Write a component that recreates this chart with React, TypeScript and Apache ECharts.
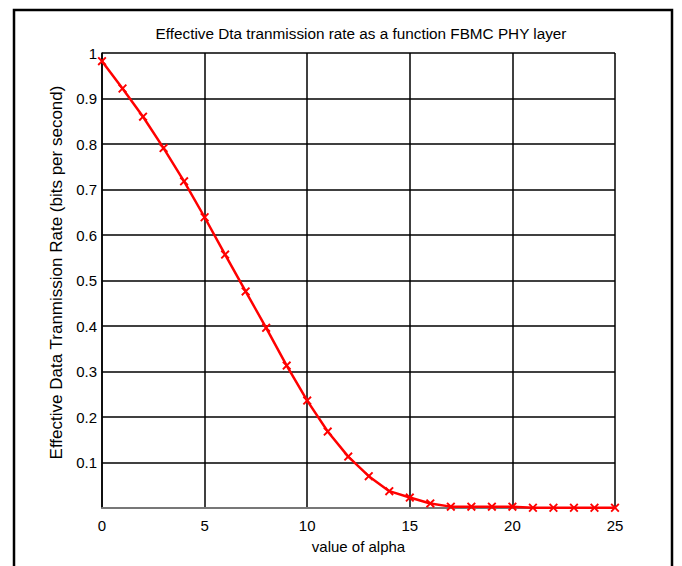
import React, { useEffect, useRef } from "react";
import * as echarts from "echarts";

const alphaValues = [0, 1, 2, 3, 4, 5, 6, 7, 8, 9, 10, 11, 12, 13, 14, 15, 16, 17, 18, 19, 20, 21, 22, 23, 24, 25];
const rateValues = [0.982, 0.922, 0.86, 0.791, 0.718, 0.639, 0.557, 0.476, 0.396, 0.313, 0.236, 0.168, 0.113, 0.07, 0.037, 0.023, 0.01, 0.003, 0.003, 0.003, 0.003, 0.0005, 0.0005, 0.0005, 0.0005, 0.0005];

const titleText = "Effective Dta tranmission rate as a function FBMC PHY layer";
const xName = "value of alpha";
const yName = "Effective Data Tranmission Rate (bits per second)";

const crossPath =
  "path://M0,1.5 L1.5,0 L5,3.5 L8.5,0 L10,1.5 L6.5,5 L10,8.5 L8.5,10 L5,6.5 L1.5,10 L0,8.5 L3.5,5 Z";

export default function App() {
  const ref = useRef<HTMLDivElement>(null);
  useEffect(() => {
    document.body.style.margin = "0";
    const chart = echarts.init(ref.current!, null, { renderer: "svg" });
    const font = "Liberation Sans, Arial, sans-serif";
    chart.setOption({
      animation: false,
      backgroundColor: "#ffffff",
      title: {
        text: titleText,
        left: 356,
        top: 21,
        textAlign: "center",
        textStyle: { fontFamily: font, fontSize: 15.3, fontWeight: "normal", color: "#000" },
      },
      grid: { left: 102, top: 53, right: 67, bottom: 58, show: false },
      xAxis: {
        type: "value",
        min: 0,
        max: 25,
        interval: 5,
        name: xName,
        nameLocation: "middle",
        nameGap: 31,
        nameTextStyle: { fontFamily: font, fontSize: 15, color: "#000" },
        axisLine: { show: true, lineStyle: { color: "#777", width: 2 } },
        axisTick: { show: false },
        axisLabel: { fontFamily: font, fontSize: 15, color: "#000", margin: 10 },
        splitLine: { show: true, lineStyle: { color: "#000", width: 1.5 } },
      },
      yAxis: {
        type: "value",
        min: 0,
        max: 1,
        interval: 0.1,
        name: yName,
        nameLocation: "middle",
        nameGap: 36,
        nameTextStyle: { fontFamily: font, fontSize: 17, color: "#000", padding: [0, 0, 0, 16] },
        axisLine: { show: true, lineStyle: { color: "#000", width: 1.5 } },
        axisTick: { show: false },
        axisLabel: {
          fontFamily: font,
          fontSize: 15,
          color: "#000",
          margin: 5,
          formatter: (v: number) => (v === 0 ? "" : String(Math.round(v * 10) / 10)),
        },
        splitLine: { show: true, lineStyle: { color: "#000", width: 1.5 } },
      },
      graphic: [
        {
          type: "rect",
          shape: { x: 14, y: 10, width: 658, height: 580 },
          style: { fill: "none", stroke: "#000", lineWidth: 2.5 },
          silent: true,
        },
      ],
      series: [
        {
          type: "line",
          data: alphaValues.map((a, i) => [a, rateValues[i]]),
          symbol: crossPath,
          symbolSize: 9,
          showAllSymbol: true,
          lineStyle: { color: "#ff0000", width: 2.5 },
          itemStyle: { color: "#ff0000" },
          clip: false,
          z: 5,
        },
      ],
    });
    return () => chart.dispose();
  }, []);
  return <div ref={ref} style={{ position: "absolute", left: 0, top: 0, width: 682, height: 566 }} />;
}
